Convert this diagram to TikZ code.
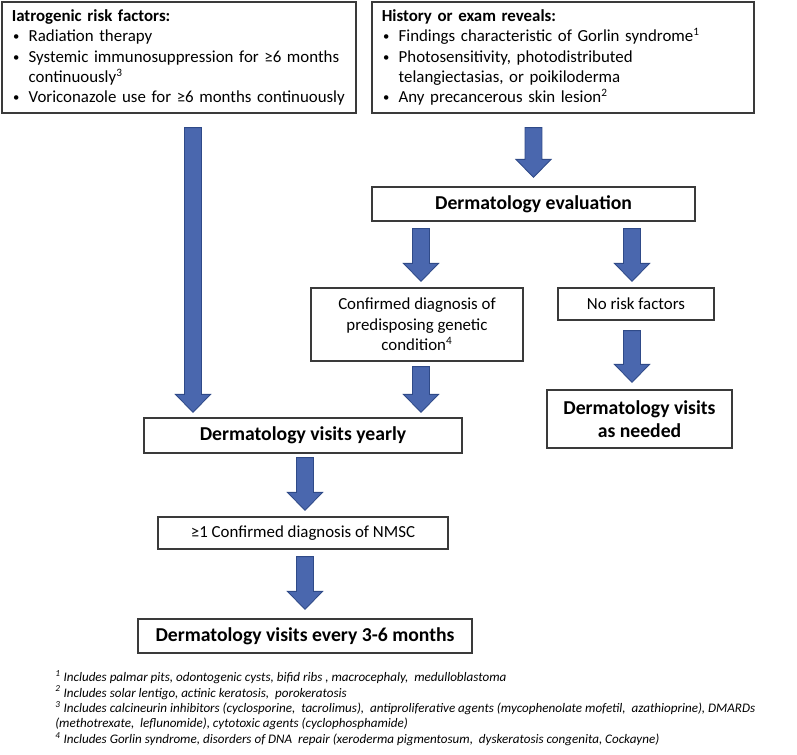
\documentclass[tikz,border=0pt]{standalone}
\usepackage{fontspec}
\setmainfont{Carlito}
\usepackage{tikz}
\usetikzlibrary{calc,positioning}
\definecolor{arrowblue}{HTML}{4A67AE}
\definecolor{arrowedge}{HTML}{2F4A88}
\definecolor{boxline}{HTML}{3A3A3A}
% bullet line with hanging indent
\newcommand{\bl}[1]{\par\noindent\hangindent=12pt\hangafter=1\makebox[12pt][l]{\hspace{1pt}\raisebox{0.6pt}{\scalebox{0.75}{\textbullet}}}#1}
% block arrow from #1 down to the tip #2
\newcommand{\blockdown}[2]{%
  \draw[blockarrow] let \p1=#1, \p2=#2 in
    (\x1-6pt,\y1) -- (\x1+6pt,\y1) -- (\x1+6pt,\y2+12.8pt) -- (\x1+12.5pt,\y2+12.8pt)
    -- (\x1,\y2) -- (\x1-12.5pt,\y2+12.8pt) -- (\x1-6pt,\y2+12.8pt) -- cycle;}

\begin{document}
\begin{tikzpicture}[x=0.025cm,y=-0.025cm,
    box/.style={draw=boxline, line width=0.9pt, fill=white, inner sep=0pt, align=center,
      font=\fontsize{12}{14.5}\selectfont},
    boldbox/.style={box, font=\fontsize{14}{16.5}\selectfont\bfseries},
    listbox/.style={draw=boxline, line width=0.9pt, inner xsep=7pt, inner ysep=0pt, align=left,
      font=\fontsize{12}{14.5}\selectfont},
    blockarrow/.style={fill=arrowblue, draw=arrowedge, line width=0.6pt, line join=miter}]
  \useasboundingbox (0,0) rectangle (797,755);

  \node[listbox, text width={8.85cm-14pt}, minimum height=2.775cm] (iatro) at (179,57.5)
    {\textbf{Iatrogenic risk factors:}%
     \bl{Radiation therapy}%
     \bl{Systemic immunosuppression for ≥6 months\newline continuously\textsuperscript{3}}%
     \bl{Voriconazole use for ≥6 months continuously}};
  \node[listbox, text width={9.55cm-14pt}, minimum height=2.775cm] (history) at (563,57.5)
    {\textbf{History or exam reveals:}%
     \bl{Findings characteristic of Gorlin syndrome\textsuperscript{1}}%
     \bl{Photosensitivity, photodistributed\newline telangiectasias, or poikiloderma}%
     \bl{Any precancerous skin lesion\textsuperscript{2}}};

  \node[boldbox, minimum width=8.075cm, minimum height=0.85cm] (eval) at (533.5,204) {Dermatology evaluation};
  \node[box, minimum width=5.3cm, minimum height=1.825cm] (confirmed) at (417,324.5)
    {Confirmed diagnosis of\\predisposing genetic\\condition\textsuperscript{4}};
  \node[box, minimum width=3.9cm, minimum height=0.8cm] (norisk) at (636,304) {No risk factors};
  \node[boldbox, minimum width=4.625cm, minimum height=1.45cm] (asneeded) at (639.5,419)
    {Dermatology visits\\as needed};
  \node[boldbox, minimum width=7.95cm, minimum height=0.875cm] (yearly) at (303,435.5) {Dermatology visits yearly};
  \node[box, minimum width=7.25cm, minimum height=0.8cm] (nmsc) at (303,533) {≥1 Confirmed diagnosis of NMSC};
  \node[boldbox, minimum width=8.35cm, minimum height=0.85cm] (every) at (305,636)
    {Dermatology visits every 3-6 months};

  \blockdown{($(iatro.south)+(14,14)$)}{($(yearly.north)+(0,-5)$)}
  \blockdown{($(history.south -| eval.north)+(0,14)$)}{($(eval.north)+(0,-9)$)}
  \blockdown{($(eval.south -| confirmed.north)+(4,7)$)}{($(confirmed.north)+(0,-6)$)}
  \blockdown{($(eval.south -| norisk.north)+(-4,7)$)}{($(norisk.north)+(0,-6)$)}
  \blockdown{($(confirmed.south)+(4,5)$)}{($(yearly.north)+(0,-5)$)}
  \blockdown{($(norisk.south)+(-4,10)$)}{($(asneeded.north)+(0,-7)$)}
  \blockdown{($(yearly.south)+(2,4)$)}{($(nmsc.north)+(0,-6)$)}
  \blockdown{($(nmsc.south)+(2,7)$)}{($(every.north)+(0,-9)$)}

  \node[anchor=north west, align=left, inner sep=0pt, font=\fontsize{9.3}{11}\selectfont\itshape] (notes) at (55,670)
    {\textsuperscript{1} Includes palmar pits, odontogenic cysts, bifid ribs , macrocephaly, \ medulloblastoma\\
     \textsuperscript{2} Includes solar lentigo, actinic keratosis, \ porokeratosis\\
     \textsuperscript{3} Includes calcineurin inhibitors (cyclosporine, \ tacrolimus), \ antiproliferative agents (mycophenolate mofetil, \ azathioprine), DMARDs\\
     (methotrexate, \ leflunomide), cytotoxic agents (cyclophosphamide)\\
     \textsuperscript{4} Includes Gorlin syndrome, disorders of DNA \ repair (xeroderma pigmentosum, \ dyskeratosis congenita, Cockayne)};
\end{tikzpicture}
\end{document}
